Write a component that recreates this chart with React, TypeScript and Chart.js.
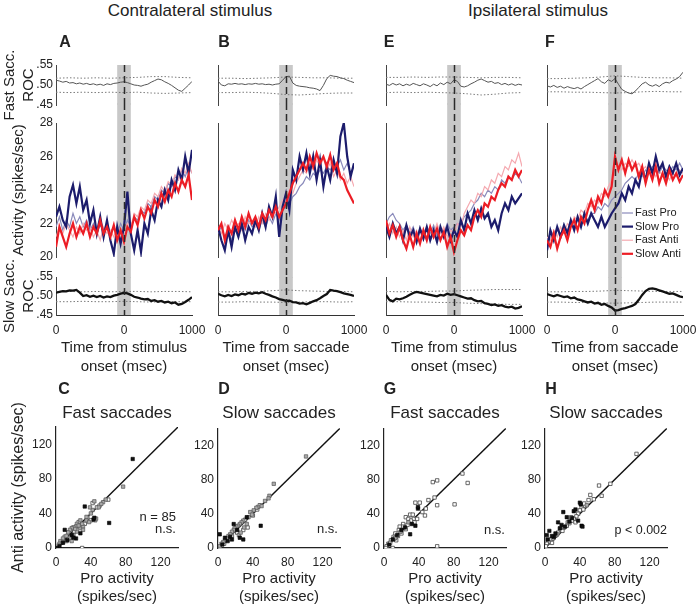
import React, { useEffect, useRef } from "react";
import { Chart, registerables } from "chart.js";

Chart.register(...registerables);

const FONT = "'Liberation Sans', Arial, Helvetica, sans-serif";
Chart.defaults.font.family = FONT;
Chart.defaults.color = "#222";

// ---------------- time axis ----------------
const T_MS = [-1000, -950, -900, -850, -800, -750, -700, -650, -600, -550, -500, -450, -400, -350, -300, -250, -200, -150, -100, -50, 0, 50, 100, 150, 200, 250, 300, 350, 400, 450, 500, 550, 600, 650, 700, 750, 800, 850, 900, 950, 1000];
const T_BOUND = [-1000, -800, -600, -400, -200, 0, 200, 400, 600, 800, 1000];
const TIME_TICKS = [-1000, 0, 1000];
const TIME_TICK_LABELS = ["0", "0", "1000"];
const BAND_MS = [-100, 100];
const EVENT_MS = 0;
const ACT_TICKS = [20, 22, 24, 26, 28];
const ROC_TICKS = [0.45, 0.5, 0.55];
const ROC_TICK_LABELS = [".45", ".50", ".55"];
const SCATTER_TICKS = [0, 40, 80, 120];
const IDENTITY = [[0, 0], [140, 140]];
const SERIES_NAMES = ["Fast Pro", "Slow Pro", "Fast Anti", "Slow Anti"];

// ---------------- activity (spikes/sec) ----------------
const A_SLOW_PRO = [22.4, 23.0, 22.2, 21.8, 23.6, 24.3, 23.2, 24.2, 22.8, 23.4, 22.0, 22.8, 21.4, 22.4, 21.2, 22.2, 21.0, 20.2, 21.8, 20.8, 21.8, 23.9, 21.4, 20.4, 21.6, 20.3, 22.0, 21.4, 22.8, 22.2, 23.4, 23.0, 24.0, 23.4, 24.6, 24.0, 25.2, 24.6, 26.0, 25.0, 26.4];
const A_SLOW_ANTI = [20.6, 21.8, 21.2, 20.6, 21.4, 22.0, 21.2, 21.8, 21.4, 22.0, 21.2, 21.8, 21.4, 22.2, 21.4, 21.8, 21.2, 21.9, 21.0, 21.6, 20.9, 21.8, 21.5, 22.4, 21.9, 22.8, 22.3, 23.0, 22.6, 23.4, 23.0, 23.8, 23.3, 24.0, 23.6, 24.4, 23.9, 24.6, 24.2, 24.9, 23.4];
const A_FAST_PRO = [21.8, 22.4, 21.6, 22.2, 21.8, 22.6, 22.0, 22.4, 21.8, 22.2, 21.6, 22.0, 21.4, 21.9, 21.6, 22.0, 21.5, 21.8, 21.4, 22.0, 21.6, 22.2, 21.8, 22.4, 22.2, 22.8, 22.6, 23.2, 23.0, 23.6, 23.4, 24.0, 23.8, 24.4, 24.2, 24.8, 24.6, 25.2, 24.8, 25.4, 25.0];
const A_FAST_ANTI = [21.2, 21.8, 21.4, 22.0, 21.6, 21.2, 21.8, 21.4, 22.0, 21.6, 21.8, 21.2, 21.6, 21.0, 21.8, 21.4, 21.6, 21.2, 21.8, 21.4, 21.6, 22.0, 21.8, 22.6, 22.4, 23.0, 22.8, 23.4, 23.2, 23.8, 23.6, 24.2, 23.9, 24.5, 24.3, 24.9, 24.6, 25.3, 25.0, 25.6, 25.0];

const B_SLOW_PRO = [21.8, 21.0, 20.4, 21.6, 20.6, 21.8, 21.2, 22.0, 21.0, 21.8, 21.4, 22.2, 21.6, 22.6, 21.8, 23.0, 22.4, 23.6, 21.2, 23.0, 23.8, 22.8, 25.2, 24.6, 26.0, 25.2, 26.2, 25.0, 26.0, 24.6, 25.8, 24.2, 25.4, 24.6, 25.8, 25.0, 27.2, 28.0, 26.0, 24.8, 25.6];
const B_SLOW_ANTI = [21.6, 22.0, 21.0, 21.8, 21.4, 22.2, 21.6, 22.4, 21.8, 22.6, 22.0, 22.4, 21.8, 22.6, 22.2, 22.8, 22.4, 23.0, 22.4, 22.8, 23.2, 23.8, 24.4, 24.8, 25.2, 25.6, 25.2, 26.0, 25.4, 26.2, 25.6, 26.0, 25.4, 26.1, 25.2, 25.6, 24.8, 24.6, 24.0, 23.6, 23.2];
const B_FAST_PRO = [21.4, 21.8, 21.2, 21.6, 21.0, 21.8, 21.4, 22.0, 21.6, 22.2, 21.8, 22.0, 21.6, 22.2, 21.8, 22.4, 22.0, 22.6, 22.2, 22.8, 23.0, 23.2, 23.6, 23.8, 24.2, 24.4, 24.8, 24.6, 25.0, 24.8, 25.2, 25.0, 25.4, 25.2, 25.6, 25.4, 25.8, 25.2, 25.6, 25.0, 25.4];
const B_FAST_ANTI = [21.8, 21.4, 22.0, 21.6, 22.2, 21.8, 22.0, 21.6, 22.4, 22.0, 22.2, 21.8, 22.4, 22.0, 22.6, 22.2, 22.8, 22.6, 23.0, 23.4, 23.6, 24.0, 23.8, 24.4, 24.8, 25.2, 25.0, 25.6, 25.2, 25.8, 25.4, 25.9, 25.2, 25.6, 24.8, 25.2, 24.6, 25.0, 24.4, 24.8, 24.2];

const E_SLOW_PRO = [21.8, 21.2, 22.0, 21.4, 21.8, 21.0, 21.9, 21.2, 21.6, 20.9, 21.7, 21.1, 21.8, 21.0, 21.6, 20.9, 21.8, 21.2, 21.8, 21.0, 21.6, 21.2, 22.2, 21.6, 22.6, 22.0, 22.8, 22.2, 22.9, 22.3, 22.6, 21.8, 22.2, 21.6, 22.6, 23.2, 22.8, 23.6, 23.2, 23.5, 23.8];
const E_SLOW_ANTI = [22.2, 21.4, 21.9, 21.2, 21.8, 21.0, 20.5, 21.3, 20.6, 21.4, 20.8, 21.6, 21.0, 21.8, 21.2, 21.7, 21.0, 21.5, 20.6, 21.2, 20.3, 21.0, 21.6, 21.3, 21.9, 21.6, 22.4, 22.8, 22.4, 23.2, 23.0, 23.6, 23.4, 24.0, 24.4, 24.2, 24.8, 24.6, 25.2, 24.8, 25.2];
const E_FAST_PRO = [22.0, 22.4, 22.6, 22.2, 22.0, 21.6, 21.9, 21.4, 21.8, 21.2, 21.7, 21.3, 21.8, 21.4, 21.9, 21.3, 21.7, 21.4, 22.0, 21.6, 21.8, 22.0, 21.9, 22.4, 22.6, 22.8, 23.2, 23.4, 23.8, 23.6, 24.0, 23.8, 24.2, 24.0, 24.6, 24.4, 24.8, 24.6, 25.0, 24.8, 24.4];
const E_FAST_ANTI = [21.6, 22.0, 21.4, 21.8, 21.2, 21.6, 21.0, 21.8, 21.2, 21.6, 21.0, 21.5, 21.2, 21.8, 21.4, 22.0, 21.4, 21.8, 21.2, 21.6, 21.4, 22.0, 21.8, 22.6, 23.0, 23.4, 23.2, 23.8, 23.6, 24.2, 24.0, 24.6, 24.4, 25.0, 24.8, 25.4, 25.2, 25.8, 25.6, 26.2, 25.4];

const F_SLOW_PRO = [20.4, 21.6, 21.0, 21.8, 21.2, 21.9, 21.4, 22.2, 21.6, 22.4, 21.8, 22.6, 22.0, 22.6, 22.2, 21.8, 22.4, 21.8, 22.2, 22.6, 22.9, 23.2, 23.8, 23.4, 24.2, 23.8, 24.6, 24.2, 25.2, 24.6, 25.6, 25.0, 26.0, 25.2, 25.6, 24.8, 25.4, 25.0, 25.6, 24.9, 25.3];
const F_SLOW_ANTI = [21.0, 20.6, 21.4, 20.5, 21.2, 21.6, 21.0, 21.8, 22.2, 21.6, 22.4, 22.0, 22.8, 23.4, 22.8, 23.6, 23.2, 24.0, 23.6, 24.2, 26.0, 25.2, 25.8, 25.0, 25.8, 25.2, 25.6, 24.8, 25.4, 24.4, 25.2, 24.6, 25.4, 24.4, 25.0, 24.4, 25.2, 24.6, 25.0, 24.5, 24.9];
const F_FAST_PRO = [21.0, 21.4, 21.2, 21.6, 21.4, 21.8, 21.6, 22.0, 21.8, 22.2, 22.0, 22.4, 22.2, 22.6, 22.6, 23.0, 22.8, 23.2, 23.0, 23.4, 23.6, 23.8, 24.0, 24.4, 24.6, 24.8, 24.6, 25.0, 24.8, 25.2, 25.0, 25.4, 25.2, 25.0, 25.4, 25.2, 25.0, 25.4, 25.2, 25.6, 25.2];
const F_FAST_ANTI = [21.2, 21.0, 21.6, 21.2, 21.8, 21.4, 22.0, 21.8, 22.4, 22.2, 22.8, 22.6, 23.2, 23.0, 23.4, 23.2, 23.8, 23.6, 24.2, 24.6, 25.0, 25.4, 25.2, 25.6, 25.4, 25.8, 25.4, 25.6, 25.2, 25.4, 25.0, 25.2, 24.8, 25.2, 24.8, 25.0, 24.6, 25.0, 24.8, 25.2, 25.0];

// ---------------- ROC ----------------
const ROC_A_FAST = [0.512, 0.510, 0.507, 0.509, 0.505, 0.506, 0.503, 0.505, 0.502, 0.504, 0.501, 0.503, 0.500, 0.502, 0.499, 0.503, 0.501, 0.504, 0.505, 0.507, 0.508, 0.506, 0.503, 0.500, 0.499, 0.497, 0.500, 0.502, 0.507, 0.511, 0.515, 0.513, 0.508, 0.504, 0.499, 0.493, 0.487, 0.484, 0.492, 0.500, 0.509];
const ROC_A_FAST_UP = [0.517, 0.518, 0.517, 0.518, 0.517, 0.518, 0.519, 0.521, 0.521, 0.519, 0.518];
const ROC_A_FAST_LO = [0.482, 0.481, 0.482, 0.481, 0.482, 0.481, 0.482, 0.480, 0.479, 0.480, 0.481];
const ROC_A_SLOW = [0.509, 0.511, 0.513, 0.512, 0.515, 0.514, 0.516, 0.509, 0.500, 0.502, 0.498, 0.501, 0.497, 0.500, 0.496, 0.499, 0.497, 0.501, 0.503, 0.506, 0.508, 0.507, 0.503, 0.498, 0.496, 0.493, 0.491, 0.492, 0.487, 0.489, 0.485, 0.487, 0.483, 0.485, 0.481, 0.483, 0.477, 0.479, 0.484, 0.490, 0.497];
const ROC_A_SLOW_UP = [0.512, 0.512, 0.511, 0.512, 0.511, 0.512, 0.512, 0.511, 0.512, 0.512, 0.511];
const ROC_A_SLOW_LO = [0.485, 0.485, 0.486, 0.485, 0.485, 0.486, 0.485, 0.484, 0.485, 0.485, 0.485];

const ROC_B_FAST = [0.510, 0.500, 0.498, 0.503, 0.502, 0.504, 0.502, 0.503, 0.501, 0.503, 0.502, 0.504, 0.502, 0.503, 0.501, 0.502, 0.500, 0.502, 0.503, 0.512, 0.521, 0.522, 0.505, 0.499, 0.497, 0.496, 0.495, 0.493, 0.492, 0.490, 0.486, 0.499, 0.516, 0.524, 0.522, 0.521, 0.518, 0.516, 0.512, 0.509, 0.506];
const ROC_B_FAST_UP = [0.517, 0.517, 0.516, 0.517, 0.518, 0.520, 0.519, 0.518, 0.518, 0.517, 0.517];
const ROC_B_FAST_LO = [0.481, 0.481, 0.482, 0.481, 0.479, 0.476, 0.475, 0.477, 0.479, 0.480, 0.480];
const ROC_B_SLOW = [0.506, 0.502, 0.499, 0.503, 0.500, 0.504, 0.502, 0.506, 0.504, 0.508, 0.506, 0.509, 0.507, 0.510, 0.506, 0.503, 0.499, 0.496, 0.492, 0.490, 0.487, 0.488, 0.484, 0.483, 0.480, 0.481, 0.478, 0.482, 0.486, 0.489, 0.494, 0.500, 0.505, 0.516, 0.514, 0.513, 0.510, 0.507, 0.505, 0.503, 0.500];
const ROC_B_SLOW_UP = [0.511, 0.511, 0.512, 0.512, 0.514, 0.516, 0.514, 0.513, 0.512, 0.512, 0.511];
const ROC_B_SLOW_LO = [0.484, 0.484, 0.485, 0.484, 0.484, 0.483, 0.484, 0.485, 0.485, 0.484, 0.485];

const ROC_E_FAST = [0.502, 0.499, 0.504, 0.500, 0.503, 0.498, 0.502, 0.499, 0.504, 0.501, 0.498, 0.503, 0.500, 0.496, 0.502, 0.498, 0.505, 0.501, 0.507, 0.503, 0.513, 0.509, 0.497, 0.495, 0.498, 0.503, 0.507, 0.512, 0.515, 0.511, 0.507, 0.509, 0.504, 0.506, 0.501, 0.504, 0.500, 0.503, 0.499, 0.502, 0.500];
const ROC_E_FAST_UP = [0.519, 0.519, 0.520, 0.519, 0.520, 0.520, 0.519, 0.518, 0.519, 0.519, 0.518];
const ROC_E_FAST_LO = [0.481, 0.482, 0.481, 0.482, 0.481, 0.480, 0.478, 0.475, 0.477, 0.480, 0.481];
const ROC_E_SLOW = [0.503, 0.490, 0.486, 0.493, 0.491, 0.494, 0.498, 0.503, 0.508, 0.511, 0.509, 0.507, 0.505, 0.503, 0.501, 0.499, 0.503, 0.501, 0.506, 0.503, 0.505, 0.502, 0.499, 0.496, 0.493, 0.494, 0.489, 0.486, 0.487, 0.481, 0.479, 0.476, 0.478, 0.474, 0.476, 0.472, 0.470, 0.472, 0.467, 0.469, 0.473];
const ROC_E_SLOW_UP = [0.512, 0.511, 0.512, 0.512, 0.513, 0.513, 0.515, 0.516, 0.517, 0.517, 0.517];
const ROC_E_SLOW_LO = [0.485, 0.485, 0.484, 0.484, 0.483, 0.483, 0.481, 0.480, 0.479, 0.478, 0.478];

const ROC_F_FAST = [0.498, 0.495, 0.499, 0.494, 0.497, 0.492, 0.496, 0.493, 0.491, 0.494, 0.490, 0.496, 0.501, 0.506, 0.511, 0.516, 0.508, 0.504, 0.513, 0.509, 0.516, 0.502, 0.489, 0.484, 0.480, 0.478, 0.485, 0.494, 0.503, 0.507, 0.500, 0.497, 0.501, 0.496, 0.503, 0.507, 0.505, 0.511, 0.515, 0.521, 0.532];
const ROC_F_FAST_UP = [0.516, 0.516, 0.517, 0.518, 0.520, 0.523, 0.521, 0.519, 0.518, 0.518, 0.517];
const ROC_F_FAST_LO = [0.483, 0.483, 0.482, 0.482, 0.481, 0.480, 0.481, 0.483, 0.484, 0.483, 0.483];
const ROC_F_SLOW = [0.505, 0.502, 0.499, 0.503, 0.500, 0.497, 0.499, 0.494, 0.496, 0.491, 0.489, 0.486, 0.483, 0.485, 0.480, 0.482, 0.477, 0.479, 0.474, 0.470, 0.462, 0.463, 0.466, 0.468, 0.471, 0.474, 0.479, 0.490, 0.503, 0.513, 0.519, 0.520, 0.518, 0.515, 0.512, 0.509, 0.506, 0.507, 0.503, 0.499, 0.497];
const ROC_F_SLOW_UP = [0.511, 0.511, 0.512, 0.512, 0.513, 0.515, 0.514, 0.513, 0.512, 0.512, 0.512];
const ROC_F_SLOW_LO = [0.484, 0.484, 0.483, 0.483, 0.482, 0.481, 0.482, 0.483, 0.484, 0.484, 0.484];

// ---------------- scatter (pro, anti) spikes/sec ----------------
const C_OPEN = [[30, 0], [60, 56], [47, 47], [42, 52], [50, 49], [36, 35], [26, 30], [15, 18], [10, 13], [6, 6], [33, 28], [40, 32], [21, 19], [25, 25]];
const C_GREY = [[77, 71], [57, 56], [54, 53], [52, 51], [49, 47], [44, 54], [42, 44], [39, 47], [35, 32], [38, 30], [45, 32], [46, 34], [28, 32], [24, 28], [23, 25], [20, 24], [18, 23], [16, 21], [14, 18], [12, 14], [8, 11], [5, 8], [4, 5], [3, 3], [8, 7], [12, 8], [16, 11], [20, 15], [24, 19], [28, 23], [31, 25], [31, 21], [18, 8], [26, 26], [30, 28], [35, 36], [40, 40], [22, 22]];
const C_BLACK = [[88, 103], [33, 48], [61, 29], [43, 33], [10, 21], [18, 15], [23, 11], [28, 17], [4, 2], [1, 0], [13, 9], [44, 35], [20, 12], [8, 6]];

const D_OPEN = [[34, 24], [29, 21], [45, 45], [40, 38], [20, 20], [16, 14], [12, 10], [7, 5], [31, 33], [48, 50], [22, 18]];
const D_GREY = [[101, 107], [64, 75], [59, 61], [58, 58], [54, 55], [50, 49], [46, 48], [44, 47], [41, 44], [37, 42], [39, 39], [35, 36], [29, 32], [27, 30], [25, 28], [23, 26], [21, 25], [19, 23], [18, 21], [16, 19], [14, 16], [12, 14], [10, 11], [8, 9], [6, 7], [4, 5], [2, 2], [24, 15], [26, 18], [30, 24], [33, 28]];
const D_BLACK = [[49, 26], [29, 10], [2, 16], [33, 36], [18, 28], [22, 21], [14, 13], [8, 12], [16, 10], [25, 12], [5, 4], [11, 8]];

const G_OPEN = [[90, 87], [96, 76], [56, 77], [61, 79], [81, 51], [61, 50], [58, 59], [51, 56], [47, 38], [36, 53], [41, 53], [30, 39], [33, 39], [25, 36], [28, 34], [34, 34], [38, 34], [31, 32], [22, 28], [18, 25], [17, 21], [13, 17], [11, 13], [8, 9], [5, 5], [3, 2], [2, 0], [10, 0], [61, 2], [14, 9], [20, 17], [25, 22], [27, 27], [35, 30], [44, 42], [48, 46], [22, 25], [16, 14], [12, 11], [7, 6]];
const G_GREY = [[19, 19], [28, 30], [13, 12]];
const G_BLACK = [[39, 46], [39, 48], [30, 16], [36, 26], [20, 21], [15, 15], [24, 24], [10, 10], [6, 4], [32, 28]];

const H_OPEN = [[105, 110], [75, 75], [62, 73], [65, 61], [56, 57], [52, 62], [50, 56], [46, 49], [42, 47], [40, 44], [38, 40], [36, 37], [33, 34], [31, 32], [28, 29], [25, 26], [21, 24], [18, 21], [15, 18], [13, 15], [10, 12], [7, 10], [4, 7], [2, 5], [1, 2], [45, 52], [30, 36], [20, 20], [8, 6], [35, 30], [44, 45]];
const H_GREY = [[26, 30], [14, 16], [9, 11], [48, 50], [22, 24]];
const H_BLACK = [[21, 42], [40, 53], [41, 51], [33, 43], [25, 36], [31, 35], [5, 20], [2, 15], [15, 30], [38, 32], [42, 26], [43, 25], [23, 25], [10, 13], [17, 23], [28, 31], [12, 17], [3, 10], [8, 14], [35, 45], [19, 27]];

// ---------------- styles / layout ----------------
const SERIES_STYLE: any = {
  "Fast Pro": { color: "#8a8abb", width: 1.2 },
  "Slow Pro": { color: "#1c1c6c", width: 2.2 },
  "Fast Anti": { color: "#f5a9b0", width: 1.2 },
  "Slow Anti": { color: "#ec1d25", width: 2.2 },
};
const DRAW_ORDER = ["Slow Anti", "Slow Pro", "Fast Anti", "Fast Pro"];

const TOP_PANELS: any[] = [
  { xTitle: ["Time from stimulus", "onset (msec)"], act: { "Fast Pro": A_FAST_PRO, "Slow Pro": A_SLOW_PRO, "Fast Anti": A_FAST_ANTI, "Slow Anti": A_SLOW_ANTI }, fast: [ROC_A_FAST, ROC_A_FAST_UP, ROC_A_FAST_LO], slow: [ROC_A_SLOW, ROC_A_SLOW_UP, ROC_A_SLOW_LO], legend: false },
  { xTitle: ["Time from saccade", "onset (msec)"], act: { "Fast Pro": B_FAST_PRO, "Slow Pro": B_SLOW_PRO, "Fast Anti": B_FAST_ANTI, "Slow Anti": B_SLOW_ANTI }, fast: [ROC_B_FAST, ROC_B_FAST_UP, ROC_B_FAST_LO], slow: [ROC_B_SLOW, ROC_B_SLOW_UP, ROC_B_SLOW_LO], legend: false },
  { xTitle: ["Time from stimulus", "onset (msec)"], act: { "Fast Pro": E_FAST_PRO, "Slow Pro": E_SLOW_PRO, "Fast Anti": E_FAST_ANTI, "Slow Anti": E_SLOW_ANTI }, fast: [ROC_E_FAST, ROC_E_FAST_UP, ROC_E_FAST_LO], slow: [ROC_E_SLOW, ROC_E_SLOW_UP, ROC_E_SLOW_LO], legend: false },
  { xTitle: ["Time from saccade", "onset (msec)"], act: { "Fast Pro": F_FAST_PRO, "Slow Pro": F_SLOW_PRO, "Fast Anti": F_FAST_ANTI, "Slow Anti": F_SLOW_ANTI }, fast: [ROC_F_FAST, ROC_F_FAST_UP, ROC_F_FAST_LO], slow: [ROC_F_SLOW, ROC_F_SLOW_UP, ROC_F_SLOW_LO], legend: true },
];

const SCATTER_PANELS: any[] = [
  { open: C_OPEN, grey: C_GREY, black: C_BLACK },
  { open: D_OPEN, grey: D_GREY, black: D_BLACK },
  { open: G_OPEN, grey: G_GREY, black: G_BLACK },
  { open: H_OPEN, grey: H_GREY, black: H_BLACK },
];

const TOP_LEFT = [56, 218, 386, 547];
const TOP_W = 136;
const ROWS: any = { fast: [65, 105], act: [123, 257], slow: [277, 315] };
const SC_LEFT = [56, 218, 384, 545];
const SC_W = 122;
const SC_T = 427;
const SC_B = 548;

function xy(ts: number[], vs: number[]) {
  return ts.map((t, i) => ({ x: t, y: vs[i] }));
}
function pts(list: number[][]) {
  return list.map(([x, y]) => ({ x, y }));
}

function bandPlugin(up: number, down: number) {
  return {
    id: "eventBand",
    beforeDatasetsDraw(chart: any) {
      const { ctx, chartArea: a, scales } = chart;
      const x0 = scales.x.getPixelForValue(BAND_MS[0]);
      const x1 = scales.x.getPixelForValue(BAND_MS[1]);
      ctx.save();
      ctx.fillStyle = "#c8c8c8";
      ctx.fillRect(x0, a.top - up, x1 - x0, a.bottom - a.top + up + down);
      ctx.restore();
    },
    afterDatasetsDraw(chart: any) {
      const { ctx, chartArea: a, scales } = chart;
      const px = Math.round(scales.x.getPixelForValue(EVENT_MS)) + 0.5;
      ctx.save();
      ctx.strokeStyle = "#2a2a2a";
      ctx.lineWidth = 1.5;
      ctx.setLineDash([7, 4]);
      ctx.beginPath();
      ctx.moveTo(px, a.top - up);
      ctx.lineTo(px, a.bottom + down);
      ctx.stroke();
      ctx.restore();
    },
  };
}

const legendPlugin = {
  id: "traceLegend",
  afterDatasetsDraw(chart: any) {
    const { ctx, chartArea: a } = chart;
    const x0 = a.right - 61;
    const y0 = a.top + 90;
    ctx.save();
    ctx.font = `11px ${FONT}`;
    ctx.textBaseline = "middle";
    SERIES_NAMES.forEach((name, i) => {
      const ds = chart.data.datasets.find((d: any) => d.label === name);
      const y = y0 + i * 13.6;
      ctx.strokeStyle = ds.borderColor;
      ctx.lineWidth = ds.borderWidth;
      ctx.beginPath();
      ctx.moveTo(x0, y);
      ctx.lineTo(x0 + 11, y);
      ctx.stroke();
      ctx.fillStyle = "#222";
      ctx.fillText(name, x0 + 13, y);
    });
    ctx.restore();
  },
};

const BASE_OPTS = {
  animation: false,
  responsive: false,
  devicePixelRatio: 1,
  events: [],
};

function topSpec(col: number, kind: string) {
  const p = TOP_PANELS[col];
  const L = TOP_LEFT[col];
  const showY = col === 0;
  const yW = showY ? L : 12;
  const [T, B] = ROWS[kind];
  const padTop = kind === "act" ? 24 : kind === "fast" ? 18 : 20;
  const padBottom = kind === "act" ? 24 : kind === "slow" ? 2 : 18;
  const xH = kind === "slow" ? 61 : 0;
  const padRight = 22;
  const width = yW + TOP_W + padRight;
  const height = padTop + (B - T) + xH + padBottom;
  const left = L - yW;
  const top = T - padTop;
  const make = () => {
    let datasets: any[];
    let yMin: number, yMax: number, yTicks: number[], yLabels: string[];
    let yTitle: any, titlePad: number, titleLH: number;
    if (kind === "act") {
      datasets = DRAW_ORDER.map((name) => ({
        label: name,
        data: xy(T_MS, p.act[name]),
        borderColor: SERIES_STYLE[name].color,
        borderWidth: SERIES_STYLE[name].width,
      }));
      yMin = 20; yMax = 28; yTicks = ACT_TICKS; yLabels = ACT_TICKS.map(String);
      yTitle = "Activity (spikes/sec)"; titlePad = 10; titleLH = 1.2;
    } else {
      const arr = p[kind];
      const fast = kind === "fast";
      datasets = [
        { label: "roc", data: xy(T_MS, arr[0]), borderColor: fast ? "#555" : "#111", borderWidth: fast ? 1 : 2.3 },
        { label: "upper", data: xy(T_BOUND, arr[1]), borderColor: "#7a7a7a", borderWidth: 1, borderDash: [1.5, 2] },
        { label: "lower", data: xy(T_BOUND, arr[2]), borderColor: "#7a7a7a", borderWidth: 1, borderDash: [1.5, 2] },
      ];
      yMin = 0.45; yMax = 0.55; yTicks = ROC_TICKS; yLabels = ROC_TICK_LABELS;
      yTitle = fast ? ["Fast Sacc.", "ROC"] : ["Slow Sacc.", "ROC"]; titlePad = 0; titleLH = 1.3;
    }
    datasets.forEach((d) => { d.pointRadius = 0; d.tension = 0; d.fill = false; });
    const plugins: any[] = [bandPlugin(kind === "act" ? 20 : 0, kind === "act" ? 21 : 0)];
    if (kind === "act" && p.legend) plugins.push(legendPlugin);
    return {
      type: "line",
      data: { datasets },
      plugins,
      options: {
        ...BASE_OPTS,
        layout: { padding: { left: 0, top: padTop, bottom: padBottom, right: padRight } },
        plugins: { legend: { display: false }, tooltip: { enabled: false } },
        scales: {
          x: {
            type: "linear",
            min: -1000,
            max: 1000,
            display: kind === "slow",
            afterBuildTicks: (s: any) => { s.ticks = TIME_TICKS.map((v) => ({ value: v })); },
            afterFit: (s: any) => { if (kind === "slow") s.height = xH; },
            grid: { display: true, drawOnChartArea: false, drawTicks: false },
            border: { display: true, color: "#333", width: 1 },
            ticks: { padding: 8, maxRotation: 0, autoSkip: false, font: { size: 12 }, color: "#222", callback: (v: any, i: number) => TIME_TICK_LABELS[i] },
            title: { display: true, text: p.xTitle, font: { size: 15, lineHeight: 1.233 }, padding: { top: 0, bottom: 0 }, color: "#222" },
          },
          y: {
            type: "linear",
            min: yMin,
            max: yMax,
            afterBuildTicks: (s: any) => { s.ticks = yTicks.map((v) => ({ value: v })); },
            afterFit: (s: any) => { s.width = yW; },
            grid: { display: true, drawOnChartArea: false, drawTicks: false },
            border: { display: true, color: "#444", width: 1 },
            ticks: { display: showY, padding: 3, font: { size: 12 }, color: "#222", callback: (v: any, i: number) => yLabels[i] },
            title: { display: showY, text: yTitle, font: { size: 15, lineHeight: titleLH }, padding: { top: titlePad, bottom: 0 }, color: "#222" },
          },
        },
      },
    };
  };
  return { key: `top-${col}-${kind}`, left, top, width, height, make };
}

function scatterSpec(col: number) {
  const p = SCATTER_PANELS[col];
  const L = SC_LEFT[col];
  const showTitle = col === 0;
  const yW = showTitle ? L : 34;
  const padTop = showTitle ? 32 : 10, padBottom = 1, padRight = 12, xH = 58;
  const width = yW + SC_W + padRight;
  const height = padTop + (SC_B - SC_T) + xH + padBottom;
  const left = L - yW;
  const top = SC_T - padTop;
  const make = () => ({
    type: "scatter",
    data: {
      datasets: [
        { label: "black", data: pts(p.black), pointStyle: "rect", pointRadius: 2.4, pointBackgroundColor: "#111", pointBorderColor: "#000", pointBorderWidth: 0.6, order: 1 },
        { label: "grey", data: pts(p.grey), pointStyle: "rect", pointRadius: 2.4, pointBackgroundColor: "#ababab", pointBorderColor: "#555", pointBorderWidth: 0.7, order: 2 },
        { label: "open", data: pts(p.open), pointStyle: "rect", pointRadius: 2.4, pointBackgroundColor: "#ffffff", pointBorderColor: "#444", pointBorderWidth: 0.8, order: 3 },
        { label: "identity", data: pts(IDENTITY), showLine: true, pointRadius: 0, borderColor: "#111", borderWidth: 1.4, order: 10 },
      ],
    },
    options: {
      ...BASE_OPTS,
      layout: { padding: { left: 0, top: padTop, bottom: padBottom, right: padRight } },
      plugins: { legend: { display: false }, tooltip: { enabled: false } },
      scales: {
        x: {
          type: "linear",
          min: 0,
          max: 140,
          afterBuildTicks: (s: any) => { s.ticks = SCATTER_TICKS.map((v) => ({ value: v })); },
          afterFit: (s: any) => { s.height = xH; },
          grid: { display: true, drawOnChartArea: false, drawTicks: false },
          border: { display: true, color: "#222", width: 1.2 },
          ticks: { padding: 7, maxRotation: 0, autoSkip: false, font: { size: 12 }, color: "#222" },
          title: { display: true, text: ["Pro activity", "(spikes/sec)"], font: { size: 15, lineHeight: 1.2 }, padding: { top: 0, bottom: 0 }, color: "#222" },
        },
        y: {
          type: "linear",
          min: 0,
          max: 140,
          afterBuildTicks: (s: any) => { s.ticks = SCATTER_TICKS.map((v) => ({ value: v })); },
          afterFit: (s: any) => { s.width = yW; },
          grid: { display: true, drawOnChartArea: false, drawTicks: false },
          border: { display: true, color: "#222", width: 1.2 },
          ticks: { padding: 4, font: { size: 12 }, color: "#222" },
          title: { display: showTitle, text: "Anti activity (spikes/sec)", font: { size: 16, lineHeight: 1.2 }, padding: { top: 9, bottom: 0 }, color: "#222" },
        },
      },
    },
  });
  return { key: `sc-${col}`, left, top, width, height, make };
}

const SPECS: any[] = [];
[0, 1, 2, 3].forEach((c) => {
  SPECS.push(topSpec(c, "act"));
  SPECS.push(topSpec(c, "fast"));
  SPECS.push(topSpec(c, "slow"));
  SPECS.push(scatterSpec(c));
});

function ChartBox({ spec }: any) {
  const ref = useRef<HTMLCanvasElement>(null);
  useEffect(() => {
    const chart = new Chart(ref.current as HTMLCanvasElement, spec.make());
    return () => chart.destroy();
  }, [spec]);
  return (
    <canvas
      ref={ref}
      width={spec.width}
      height={spec.height}
      style={{ position: "absolute", left: spec.left, top: spec.top, width: spec.width, height: spec.height }}
    />
  );
}

function Txt({ x, y, size, bold, align, children }: any) {
  const lh = size * 1.2;
  const style: any = {
    position: "absolute",
    top: y - lh / 2,
    fontSize: size,
    lineHeight: `${lh}px`,
    fontFamily: FONT,
    fontWeight: bold ? "bold" : "normal",
    whiteSpace: "nowrap",
    color: "#222",
  };
  if (align === "right") {
    style.left = x - 300;
    style.width = 300;
    style.textAlign = "right";
  } else {
    style.left = x - 150;
    style.width = 300;
    style.textAlign = "center";
  }
  return <div style={style}>{children}</div>;
}

export default function App() {
  return (
    <div style={{ position: "absolute", left: 0, top: 0, width: 697, height: 608, overflow: "hidden", background: "#fff" }}>
      {SPECS.map((s) => (
        <ChartBox key={s.key} spec={s} />
      ))}
      <Txt x={190} y={11} size={17}>Contralateral stimulus</Txt>
      <Txt x={538} y={11} size={17}>Ipsilateral stimulus</Txt>
      <Txt x={65} y={42} size={16} bold>A</Txt>
      <Txt x={224} y={42} size={16} bold>B</Txt>
      <Txt x={389} y={42} size={16} bold>E</Txt>
      <Txt x={550} y={42} size={16} bold>F</Txt>
      <Txt x={64} y={389} size={16} bold>C</Txt>
      <Txt x={224} y={389} size={16} bold>D</Txt>
      <Txt x={390} y={389} size={16} bold>G</Txt>
      <Txt x={551} y={389} size={16} bold>H</Txt>
      <Txt x={117} y={413} size={17}>Fast saccades</Txt>
      <Txt x={279} y={413} size={17}>Slow saccades</Txt>
      <Txt x={445} y={413} size={17}>Fast saccades</Txt>
      <Txt x={606} y={413} size={17}>Slow saccades</Txt>
      <Txt x={176} y={517} size={13} align="right">n = 85</Txt>
      <Txt x={176} y={529} size={13} align="right">n.s.</Txt>
      <Txt x={338} y={529} size={13} align="right">n.s.</Txt>
      <Txt x={505} y={530} size={13} align="right">n.s.</Txt>
      <Txt x={667} y={530} size={12.5} align="right">p &lt; 0.002</Txt>
    </div>
  );
}
